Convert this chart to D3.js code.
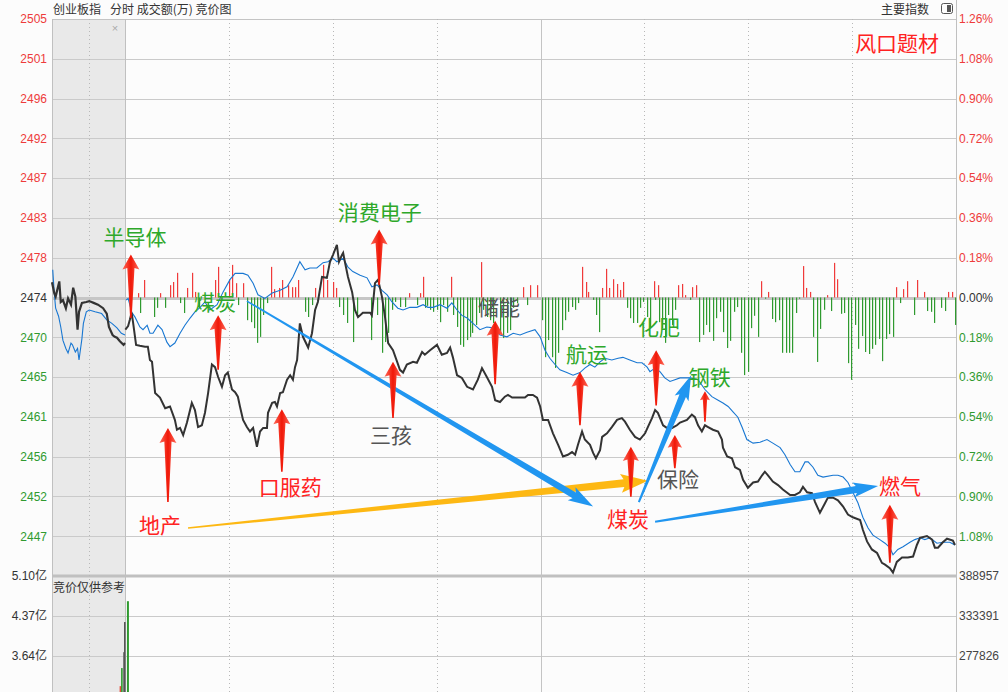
<!DOCTYPE html>
<html><head><meta charset="utf-8">
<script src="https://cdn.jsdelivr.net/npm/d3@7"></script>
<style>
body{margin:0;background:#fcfcfc;}
svg{display:block;font-family:"Liberation Sans",Arial,sans-serif;}
</style>
</head><body>
<svg id="c" width="1008" height="692"></svg>
<script>
// ---------------- DATA ----------------
const preClose = 2474;
const stepPct = 0.0018;
const leftTickLabels = ["2505","2501","2496","2492","2487","2483","2478","2474","2470","2465","2461","2456","2452","2447"];
const rightTickLabels = ["1.26%","1.08%","0.90%","0.72%","0.54%","0.36%","0.18%","0.00%","0.18%","0.36%","0.54%","0.72%","0.90%","1.08%"];
const volLeftLabels = ["5.10亿","4.37亿","3.64亿"];
const volRightLabels = ["388957","333391","277826"];
const volTickValues = [5.10, 4.37, 3.64];

// auction (9:15-9:25, minutes from 9:15) : [t, price]
const auctionPrice = [[0,2475.7],[0.3,2474.5],[0.5,2474.1],[1.0,2475.8],[1.2,2473.5],[1.5,2473.7],[1.9,2472.8],[2.2,2473.9],[2.6,2473.2],[2.9,2475.1],[3.2,2474.1],[3.5,2470.4],[3.7,2472.4],[4.1,2473.4],[4.7,2473.5],[5.1,2473.6],[5.7,2473.4],[6.3,2473.2],[7.0,2472.8],[7.5,2472.2],[7.8,2470.7],[8.3,2469.8],[8.6,2469.6],[8.9,2469.5],[9.3,2469.1],[9.8,2468.7],[10,2468.9]];
const auctionAvg = [[0.1,2477.1],[0.3,2474.6],[0.5,2472.8],[0.9,2471.9],[1.2,2470.7],[1.5,2469.2],[1.9,2468.3],[2.2,2467.8],[2.6,2468.9],[2.8,2468.7],[3.2,2467.9],[3.5,2468.3],[3.7,2467.0],[4.1,2469.4],[4.3,2471.1],[4.7,2472.4],[5.1,2472.6],[5.9,2472.4],[6.8,2472.2],[7.5,2471.5],[8.2,2471.1],[8.9,2470.6],[9.5,2470.0],[10,2469.8]];

// session (minutes from 9:30, 0..240) : [m, price]
const pricePts = [[0.1,2470.4],[0.9,2470.8],[1.4,2471.5],[1.9,2472.3],[2.3,2471.3],[3.2,2468.7],[4.3,2468.6],[5.8,2468.5],[6.6,2468.5],[7.2,2467.0],[7.8,2466.8],[8.7,2463.3],[10.1,2462.8],[11.6,2461.6],[13.0,2461.8],[14.4,2460.3],[15.0,2459.2],[15.9,2459.4],[16.8,2458.6],[17.9,2460.0],[19.3,2462.2],[20.2,2461.4],[21.1,2459.5],[22.2,2459.7],[23.1,2461.1],[24.0,2463.3],[25.1,2466.5],[26.0,2466.2],[26.9,2465.1],[28.0,2464.0],[28.9,2465.3],[29.7,2465.6],[30.9,2463.7],[31.8,2463.4],[32.6,2462.9],[33.2,2461.8],[34.1,2460.3],[35.2,2459.5],[36.1,2459.0],[37.0,2459.4],[38.1,2457.3],[39.0,2459.0],[39.9,2459.4],[41.0,2459.4],[41.3,2461.1],[42.5,2462.2],[43.3,2462.3],[43.9,2461.8],[44.8,2463.3],[45.6,2463.4],[46.8,2464.8],[47.7,2465.3],[48.5,2464.8],[49.1,2466.2],[49.7,2467.0],[50.5,2471.1],[51.4,2469.6],[52.9,2468.4],[54.0,2470.0],[54.9,2472.6],[55.7,2473.5],[56.9,2476.3],[58.3,2476.2],[59.2,2478.0],[60.1,2478.8],[61.2,2479.9],[61.8,2478.0],[62.7,2478.8],[63.0,2479.0],[63.5,2478.0],[64.4,2476.3],[65.6,2474.6],[66.4,2472.6],[67.3,2471.8],[68.7,2472.3],[70.8,2472.3],[71.3,2472.0],[72.2,2475.6],[73.1,2476.0],[74.2,2474.1],[75.1,2471.8],[76.0,2468.9],[77.4,2468.1],[78.6,2466.8],[79.4,2465.9],[80.3,2465.6],[81.4,2466.5],[83.2,2466.8],[84.3,2466.7],[85.8,2467.9],[86.6,2467.6],[88.1,2468.1],[90.1,2468.7],[91.5,2467.6],[93.0,2467.8],[93.9,2468.4],[94.7,2467.3],[95.9,2465.3],[97.3,2465.0],[98.8,2464.0],[100.5,2463.7],[101.9,2464.8],[103.1,2466.1],[104.5,2465.1],[106.0,2464.0],[106.9,2462.5],[108.3,2462.3],[109.7,2462.9],[110.6,2463.1],[111.8,2462.8],[115.5,2462.8],[116.4,2463.1],[117.8,2463.1],[119.0,2462.8],[119.9,2461.8],[120.7,2460.3],[122.2,2460.3],[123.6,2458.8],[125.1,2457.5],[126.5,2456.2],[127.9,2456.4],[129.1,2456.7],[130.0,2456.4],[130.8,2457.5],[132.0,2459.0],[132.8,2458.1],[134.3,2457.5],[135.2,2456.6],[136.0,2456.0],[137.2,2456.9],[137.8,2458.4],[139.2,2458.8],[140.6,2459.5],[142.1,2460.3],[143.5,2460.5],[144.4,2460.1],[145.8,2459.2],[147.3,2458.4],[148.7,2458.1],[150.2,2458.8],[151.0,2459.5],[152.2,2460.5],[153.1,2461.4],[153.9,2461.1],[155.4,2459.7],[156.5,2459.4],[158.0,2459.4],[159.4,2459.7],[160.3,2460.0],[162.3,2460.3],[163.7,2460.9],[164.6,2460.6],[165.5,2459.7],[166.6,2459.0],[167.5,2459.7],[168.4,2459.5],[169.8,2459.2],[171.3,2459.0],[172.4,2458.1],[172.7,2457.2],[173.9,2456.2],[175.3,2456.0],[176.2,2455.0],[177.6,2454.7],[178.5,2453.6],[179.9,2452.7],[181.4,2453.3],[182.8,2453.4],[184.0,2454.1],[184.8,2454.5],[185.7,2454.1],[187.1,2453.4],[188.6,2453.0],[190.0,2452.5],[192.1,2451.9],[193.5,2451.9],[194.9,2452.2],[195.8,2452.8],[197.0,2452.2],[198.4,2452.1],[199.3,2451.1],[200.7,2449.9],[202.2,2451.0],[203.0,2451.6],[204.5,2451.6],[205.9,2451.3],[207.4,2450.6],[208.8,2449.7],[210.2,2449.4],[212.3,2449.1],[213.1,2448.0],[214.3,2446.7],[215.7,2445.8],[217.2,2445.4],[218.6,2444.3],[219.5,2444.1],[220.9,2443.7],[221.8,2443.2],[222.9,2444.4],[224.4,2444.9],[226.1,2444.9],[227.6,2445.0],[228.7,2446.3],[229.6,2447.1],[231.6,2447.3],[233.1,2446.9],[233.9,2446.0],[234.8,2446.0],[236.2,2446.6],[237.4,2447.0],[239.1,2446.8],[239.7,2446.3]];

const avgPts = [[0.3,2473.7],[0.9,2473.9],[2.0,2472.3],[2.9,2471.8],[4.3,2470.7],[5.2,2470.4],[6.4,2470.9],[7.2,2470.0],[8.1,2470.0],[9.5,2470.9],[10.7,2470.4],[12.1,2469.0],[13.0,2468.5],[14.4,2468.9],[15.9,2470.0],[17.3,2470.9],[18.8,2471.7],[20.2,2472.4],[21.7,2472.9],[23.1,2473.5],[24.5,2472.6],[26.6,2473.2],[28.3,2474.6],[30.3,2476.0],[31.8,2476.7],[34.1,2476.7],[35.5,2476.5],[37.0,2475.6],[38.4,2474.3],[40.4,2473.9],[42.5,2474.5],[44.8,2474.8],[46.8,2475.2],[48.5,2476.3],[50.5,2478.0],[52.0,2477.1],[53.4,2477.3],[55.4,2477.3],[57.2,2477.9],[58.6,2478.0],[60.1,2478.4],[61.2,2478.0],[63.0,2478.4],[64.4,2477.4],[65.8,2476.9],[67.9,2476.5],[69.9,2476.2],[71.3,2475.2],[72.8,2475.4],[74.2,2474.8],[75.7,2474.3],[77.1,2473.5],[78.8,2472.8],[80.3,2472.6],[82.3,2472.9],[84.3,2472.9],[86.1,2473.2],[87.5,2472.9],[89.0,2472.9],[91.0,2473.2],[93.0,2472.8],[94.4,2473.4],[95.9,2472.6],[97.3,2472.0],[98.8,2471.7],[100.5,2471.1],[102.5,2470.4],[104.5,2470.7],[106.3,2470.6],[108.3,2469.8],[110.3,2469.6],[112.1,2470.0],[114.1,2469.8],[116.1,2470.1],[118.4,2470.4],[119.9,2469.6],[121.3,2468.1],[122.7,2467.2],[124.2,2466.5],[125.6,2465.9],[127.6,2465.6],[129.4,2465.3],[131.4,2465.6],[132.8,2466.1],[134.3,2466.5],[135.7,2466.2],[137.2,2466.8],[138.6,2467.2],[140.6,2467.0],[142.4,2467.2],[143.8,2467.3],[145.8,2467.0],[147.9,2466.7],[149.3,2466.7],[150.8,2466.2],[151.6,2465.7],[153.1,2466.1],[154.5,2465.7],[155.9,2465.0],[157.4,2464.6],[158.8,2464.8],[160.3,2465.0],[163.2,2465.0],[165.5,2464.8],[167.5,2463.7],[169.5,2462.9],[171.3,2462.5],[172.7,2462.2],[174.2,2461.8],[175.6,2461.2],[177.0,2460.6],[178.2,2459.5],[179.6,2458.1],[181.4,2457.7],[183.4,2457.8],[185.4,2458.1],[187.1,2457.7],[189.2,2457.2],[190.6,2456.4],[192.1,2455.3],[193.5,2454.5],[194.9,2454.5],[196.4,2455.6],[197.3,2455.6],[198.7,2455.0],[200.1,2454.1],[201.6,2453.9],[204.5,2454.1],[205.9,2454.1],[207.4,2453.9],[208.8,2453.3],[210.2,2452.2],[211.7,2451.0],[213.1,2449.4],[214.6,2448.2],[216.0,2447.4],[218.0,2446.9],[219.5,2446.5],[220.9,2446.0],[221.8,2445.2],[223.2,2445.8],[224.7,2446.1],[226.7,2446.6],[228.1,2446.9],[229.6,2447.1],[231.0,2446.9],[232.5,2447.1],[234.5,2446.5],[236.2,2446.6],[238.2,2446.6],[239.7,2446.3]];

// red/green bars on the zero line : [m, value] (100 = one grid step)
const flowBars = [[1.4,-39],[3.8,11],[4.2,-39],[5.5,44],[8.4,-49],[9.2,-26],[10.1,11],[11.6,-26],[13.0,31],[13.9,39],[15.0,62],[15.9,-14],[17.0,-39],[17.9,24],[19.3,62],[20.2,14],[21.4,-26],[26.0,44],[26.9,77],[30.0,44],[30.9,82],[32.1,36],[32.6,-19],[34.1,36],[35.2,-57],[36.4,-62],[37.3,-77],[38.1,-114],[39.0,-99],[39.9,-44],[41.0,-14],[42.2,77],[43.0,21],[44.5,24],[45.3,44],[47.1,31],[48.2,26],[49.1,26],[50.0,44],[52.0,-36],[52.9,-49],[54.0,-19],[54.9,24],[57.2,82],[58.3,44],[60.1,39],[60.9,24],[61.8,-24],[63.0,-44],[64.1,-64],[65.8,-112],[67.0,-49],[71.0,-107],[72.8,-44],[74.2,-139],[75.1,-112],[76.0,-89],[77.1,-31],[78.0,-11],[79.4,-24],[80.9,-24],[82.0,11],[84.3,-19],[85.2,11],[86.1,52],[86.6,-26],[87.2,-21],[88.1,-31],[89.0,-36],[90.1,-31],[91.0,-62],[91.8,-19],[93.0,-36],[94.1,52],[94.7,-44],[95.9,-74],[96.7,-119],[97.6,-124],[98.8,-107],[99.6,-99],[100.2,-89],[101.4,-69],[102.2,-39],[102.8,89],[103.4,-31],[104.5,-49],[105.4,-57],[106.3,-64],[108.3,-89],[109.2,-102],[110.3,-89],[111.2,-82],[112.1,-26],[113.2,-14],[114.9,26],[116.1,-19],[117.0,31],[119.0,31],[120.4,-57],[121.3,-150],[122.2,-107],[123.3,-150],[124.2,-177],[125.1,-139],[126.2,-82],[127.1,-57],[127.9,-36],[129.1,-24],[130.0,-31],[130.8,-14],[132.0,77],[133.1,39],[133.7,14],[135.2,-6],[136.0,-44],[136.9,-87],[137.8,24],[138.9,72],[139.8,24],[140.9,46],[142.1,34],[143.0,19],[143.8,39],[145.0,-26],[145.8,-52],[146.7,-64],[147.9,-64],[148.7,-26],[149.6,-11],[150.8,-49],[151.6,-77],[152.8,41],[153.1,-6],[153.9,31],[154.3,-62],[155.1,-77],[155.9,-114],[156.8,-44],[158.0,-69],[158.8,-31],[159.7,31],[160.9,34],[161.7,6],[163.2,-6],[163.7,26],[164.9,31],[165.8,-112],[166.9,-94],[167.8,-69],[168.7,-87],[169.8,-109],[170.7,-52],[171.9,-36],[172.7,-87],[173.9,-127],[174.7,-109],[175.9,-36],[176.7,-24],[177.9,-139],[178.8,-195],[179.9,-187],[180.8,-77],[181.6,-46],[182.8,-99],[183.7,41],[184.8,-3],[185.7,14],[186.9,-54],[187.7,-62],[188.9,-57],[189.7,-139],[190.9,-139],[191.8,-139],[192.6,-139],[193.8,-39],[194.6,-3],[195.8,79],[196.7,24],[197.8,14],[198.7,-99],[199.9,-162],[200.7,-79],[201.9,-31],[202.7,6],[203.9,-34],[204.8,87],[205.6,46],[206.8,-41],[207.6,-39],[208.8,-165],[209.6,-207],[210.8,-69],[211.7,-129],[212.8,-97],[213.7,-137],[214.9,-142],[215.7,-129],[216.6,-119],[217.7,-104],[218.6,-160],[219.8,-104],[220.6,-92],[221.8,-99],[222.7,26],[223.8,-14],[224.7,21],[225.8,41],[227.9,-44],[228.7,44],[230.7,14],[231.6,-34],[232.8,-36],[233.6,-64],[235.7,-26],[236.8,-34],[237.7,14],[238.8,14],[239.7,-69]];

// auction volume (亿) : [t, value, direction]
const auctionVol = [[9.4,3.09,"up"],[9.6,3.42,"down"],[9.9,3.71,"flat"],[10.0,4.26,"flat"]];
const openVol = [[0.7,4.64,"down"]];

// annotations (anchored in data units: minute, price)
const labelTexts = ["半导体","煤炭","消费电子","储能","航运","化肥","钢铁","三孩","口服药","地产","保险","煤炭","燃气","风口题材"];
const labelColors = ["green","green","green","gray","green","green","green","gray","red","red","gray","red","red","red"];
const labelAnchors = [[2.9,2480.7],[26.0,2473.5],[73.6,2483.5],[108.0,2472.9],[133.4,2467.6],[154.2,2470.6],[168.9,2465.0],[76.8,2458.6],[47.7,2452.7],[10.1,2448.5],[159.7,2453.6],[145.3,2449.2],[223.8,2452.9],[223.0,2502.4]];
// up arrows : [minute, tipPrice, tailPrice, size]
const upArrows = [[1.7,2478.8,2471.7,1],[26.9,2472.0,2465.9,1],[12.4,2459.4,2451.1,1],[45.3,2461.5,2454.5,1],[73.4,2481.6,2475.4,1],[77.4,2466.8,2460.5,1],[106.9,2471.4,2464.3,1],[131.4,2465.7,2459.7,1],[153.4,2468.1,2461.9,1],[167.5,2463.5,2460.1,0.6],[158.8,2458.6,2454.9,0.85],[146.1,2457.3,2451.7,0.95],[220.9,2450.8,2444.3,1]];
// trend arrows : [m0, p0, m1, p1, colour]
const trendArrows = [[18.2,2448.2,151.0,2453.5,"yellow"],[35.2,2473.6,135.2,2450.6,"blue"],[148.4,2451.1,163.5,2465.3,"blue"],[153.1,2448.9,217.5,2452.9,"blue"]];

// ---------------- DRAW ----------------
const X0=52, XA=125, X1=956, YT=19, YM=576, YB=696;
const svg = d3.select("#c");
const xA = d3.scaleLinear().domain([0,10]).range([X0,XA]);
const x = d3.scaleLinear().domain([0,240]).range([XA,X1]);
const y = d3.scaleLinear().domain([preClose*(1-7*stepPct), preClose*(1+7*stepPct)]).range([YM,YT]);
const yBar = d3.scaleLinear().domain([-700,700]).range([YM,YT]);
const yVol = d3.scaleLinear().domain([5.10,2.91]).range([YM,YB]);

const RED="#ee3b3b", GREEN="#2f9a2f", DARK="#333";
svg.append("rect").attr("width",1008).attr("height",692).attr("fill","#fcfcfc");
svg.append("rect").attr("x",X0).attr("y",YT).attr("width",XA-X0).attr("height",692-YT).attr("fill","#e9e9e9");

// horizontal grid
const g = svg.append("g");
d3.range(-6,7).forEach(k=>{
  const yy = Math.round(y(preClose*(1+k*stepPct)))+0.5;
  g.append("line").attr("x1",X0).attr("x2",X1).attr("y1",yy).attr("y2",yy)
   .attr("stroke", k===0?"#c6c6c6":"#cacaca").attr("stroke-width", k===0?3:1);
});
g.append("line").attr("x1",X0).attr("x2",X1).attr("y1",YT+0.5).attr("y2",YT+0.5).attr("stroke","#c4c4c4");
g.append("line").attr("x1",X0).attr("x2",X1).attr("y1",YM).attr("y2",YM).attr("stroke","#c0c0c0").attr("stroke-width",3);
volTickValues.slice(1).forEach(v=>{
  const yy=Math.round(yVol(v))+0.5;
  g.append("line").attr("x1",X0).attr("x2",X1).attr("y1",yy).attr("y2",yy).attr("stroke","#cacaca");
});
// vertical grid
[30,60,90,150,180,210].forEach(m=>{
  const xx=Math.round(x(m))+0.5;
  g.append("line").attr("x1",xx).attr("x2",xx).attr("y1",YT).attr("y2",692).attr("stroke","#b8b8b8").attr("stroke-dasharray","1,3");
});
{const xx=Math.round(xA(5))+0.5;
 g.append("line").attr("x1",xx).attr("x2",xx).attr("y1",YT).attr("y2",692).attr("stroke","#b8b8b8").attr("stroke-dasharray","1,3");}
{const xx=Math.round(x(120))+0.5;
 g.append("line").attr("x1",xx).attr("x2",xx).attr("y1",YT).attr("y2",692).attr("stroke","#c4c4c4");}
[X0,XA].forEach(xx=>g.append("line").attr("x1",xx+0.5).attr("x2",xx+0.5).attr("y1",YT).attr("y2",692).attr("stroke","#c0c0c0"));
g.append("line").attr("x1",X1+0.5).attr("x2",X1+0.5).attr("y1",0).attr("y2",692).attr("stroke","#c0c0c0");

// axis labels
const lab = svg.append("g").attr("font-size",12);
leftTickLabels.forEach((t,i)=>{
  const k=7-i, yy=y(preClose*(1+k*stepPct));
  const col = k>0?RED:(k<0?GREEN:DARK);
  lab.append("text").attr("x",47).attr("y",yy).attr("dy","0.36em").attr("text-anchor","end").attr("fill",col).text(t);
  lab.append("text").attr("x",959).attr("y",yy).attr("dy","0.36em").attr("fill",col).text(rightTickLabels[i]);
});
volTickValues.forEach((v,i)=>{
  const yy=yVol(v);
  lab.append("text").attr("x",47).attr("y",yy).attr("dy","0.36em").attr("text-anchor","end").attr("fill",DARK)
    .attr("font-family","'Liberation Sans','Noto Sans CJK SC',sans-serif").text(volLeftLabels[i]);
  lab.append("text").attr("x",959).attr("y",yy).attr("dy","0.36em").attr("fill","#444").text(volRightLabels[i]);
});

// flow bars
svg.append("g").selectAll("rect").data(flowBars).join("rect")
  .attr("x",d=>Math.round(x(d[0])))
  .attr("width",1.2)
  .attr("y",d=>Math.min(yBar(d[1]),yBar(0)))
  .attr("height",d=>Math.abs(yBar(d[1])-yBar(0)))
  .attr("fill",d=>d[1]>=0?"#f03a3a":"#2f9a2f");

// volume bars
const volColor = {up:"#e84a3a",down:"#2f9a2f",flat:"#555"};
svg.append("g").selectAll("rect").data(auctionVol).join("rect")
  .attr("x",d=>xA(d[0])-1).attr("width",1.6).attr("y",d=>yVol(d[1])).attr("height",d=>YB-yVol(d[1]))
  .attr("fill",d=>volColor[d[2]]);
svg.append("g").selectAll("rect").data(openVol).join("rect")
  .attr("x",d=>x(d[0])-0.5).attr("width",2).attr("y",d=>yVol(d[1])).attr("height",d=>YB-yVol(d[1]))
  .attr("fill",d=>volColor[d[2]]);

// lines
const lnA = d3.line().x(d=>xA(d[0])).y(d=>y(d[1]));
const ln = d3.line().x(d=>x(d[0])).y(d=>y(d[1]));
svg.append("path").attr("d",lnA(auctionAvg)).attr("fill","none").attr("stroke","#1877d2").attr("stroke-width",1.1);
svg.append("path").attr("d",ln(avgPts)).attr("fill","none").attr("stroke","#1877d2").attr("stroke-width",1.1);
svg.append("path").attr("d",lnA(auctionPrice)).attr("fill","none").attr("stroke","#333").attr("stroke-width",2.2);
svg.append("path").attr("d",ln(pricePts)).attr("fill","none").attr("stroke","#333").attr("stroke-width",2);

// gradient for red arrows
const defs = svg.append("defs");
const gr = defs.append("linearGradient").attr("id","rg").attr("x1","0").attr("x2","1").attr("y1","0").attr("y2","0");
gr.append("stop").attr("offset","0").attr("stop-color","#ff6a5a");
gr.append("stop").attr("offset","0.5").attr("stop-color","#f01808");
gr.append("stop").attr("offset","1").attr("stop-color","#ff6a5a");

// trend arrows
function taper(x0,y0,x1,y1,w0,w1,hw,hl){
  const dx=x1-x0, dy=y1-y0, L=Math.hypot(dx,dy), ux=dx/L, uy=dy/L, nx=-uy, ny=ux;
  const Nx=x1-ux*hl, Ny=y1-uy*hl;
  return [[x0+nx*w0/2,y0+ny*w0/2],[Nx+nx*w1/2,Ny+ny*w1/2],[Nx+nx*hw/2-ux*3,Ny+ny*hw/2-uy*3],[x1,y1],
          [Nx-nx*hw/2-ux*3,Ny-ny*hw/2-uy*3],[Nx-nx*w1/2,Ny-ny*w1/2],[x0-nx*w0/2,y0-ny*w0/2]];
}
const ta = svg.append("g");
trendArrows.forEach(a=>{
  const x0=x(a[0]), y0=y(a[1]), x1=x(a[2]), y1=y(a[3]);
  const L=Math.hypot(x1-x0,y1-y0);
  let pts;
  if(a[4]==="yellow") pts=taper(x0,y0,x1,y1,1.5,8,19,24);
  else if(L<250) pts=taper(x0,y0,x1,y1,2,7,15,22);
  else if(a[1]>a[3]) pts=taper(x0,y0,x1,y1,1.5,6.5,15,22);
  else pts=taper(x0,y0,x1,y1,1.5,5,13,22);
  ta.append("path").attr("d",d3.line()(pts)+"Z").attr("fill",a[4]==="yellow"?"#fdb813":"#2196f0");
});

// up arrows
const ua = svg.append("g");
upArrows.forEach(a=>{
  const cx=x(a[0]), ty=y(a[1]), by=y(a[2]), s=a[3];
  const hw=8.5*s, hl=15*s, sw=3.6*s, bw=0.8;
  const pts=[[cx,ty],[cx+hw,ty+hl],[cx+sw,ty+hl-1.5*s],[cx+bw,by],[cx-bw,by],[cx-sw,ty+hl-1.5*s],[cx-hw,ty+hl]];
  ua.append("path").attr("d",d3.line()(pts)+"Z").attr("fill","url(#rg)");
});

// labels
const lc = {green:"#2ea82a", gray:"#555", red:"#ff2222"};
const tl = svg.append("g").attr("font-family","'Noto Sans CJK SC',sans-serif").attr("font-size",21);
labelTexts.forEach((t,i)=>{
  tl.append("text").attr("x",x(labelAnchors[i][0])).attr("y",y(labelAnchors[i][1])).attr("dy","0.36em")
    .attr("text-anchor","middle").attr("fill",lc[labelColors[i]]).text(t);
});

// header
const hd = svg.append("g").attr("font-family","'Noto Sans CJK SC',sans-serif").attr("font-size",12).attr("fill","#333");
hd.append("text").attr("x",53).attr("y",14).text("创业板指");
hd.append("text").attr("x",110).attr("y",14).text("分时 成交额(万) 竞价图");
hd.append("text").attr("x",881).attr("y",14).text("主要指数");
hd.append("text").attr("x",53).attr("y",592).text("竞价仅供参考");
svg.append("rect").attr("x",941.5).attr("y",3.5).attr("width",11).attr("height",10).attr("rx",2).attr("fill","none").attr("stroke","#555");
svg.append("rect").attr("x",947).attr("y",5).attr("width",4).attr("height",7).attr("fill","#555");
svg.append("text").attr("x",115).attr("y",32).attr("text-anchor","middle").attr("font-size",11).attr("fill","#aaa").text("×");
</script>
</body></html>
